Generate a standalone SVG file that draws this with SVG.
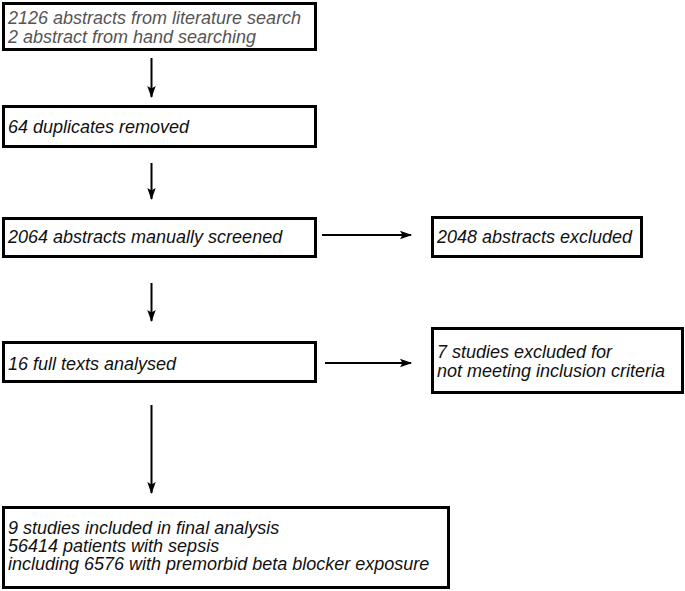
<svg xmlns="http://www.w3.org/2000/svg" width="685" height="591" viewBox="0 0 685 591">
<style>
.box{fill:#fff;stroke:#000;stroke-width:3}
.t{font-family:"Liberation Sans",Arial,sans-serif;font-style:italic;font-size:18px;fill:#111}
.g{fill:#555}
.c{stroke:#000;stroke-width:2;fill:none}
</style>
<defs>
<marker id="ah" markerWidth="12" markerHeight="10" refX="11" refY="5" orient="auto" markerUnits="userSpaceOnUse">
<path d="M0,0.8 L12,5 L0,9.2 L2.5,5 Z" fill="#000"/>
</marker>
</defs>
<rect width="685" height="591" fill="#fff"/>
<g id="connectors">
<line class="c" x1="151.5" y1="58" x2="151.5" y2="97" marker-end="url(#ah)"/>
<line class="c" x1="151.5" y1="163" x2="151.5" y2="199" marker-end="url(#ah)"/>
<line class="c" x1="151.5" y1="283" x2="151.5" y2="321" marker-end="url(#ah)"/>
<line class="c" x1="151.5" y1="405" x2="151.5" y2="493" marker-end="url(#ah)"/>
<line class="c" x1="322" y1="235" x2="411" y2="235" marker-end="url(#ah)"/>
<line class="c" x1="325" y1="363" x2="411" y2="363" marker-end="url(#ah)"/>
</g>
<g id="n1">
<rect class="box" x="3.5" y="3.5" width="312" height="46"/>
<text class="t g" x="8" y="23.5">2126 abstracts from literature search</text>
<text class="t g" x="8" y="42.5">2 abstract from hand searching</text>
</g>
<g id="n2">
<rect class="box" x="3.5" y="106.5" width="312" height="40"/>
<text class="t" x="8" y="133">64 duplicates removed</text>
</g>
<g id="n3">
<rect class="box" x="3.5" y="218.5" width="312" height="38"/>
<text class="t" x="8" y="243">2064 abstracts manually screened</text>
</g>
<g id="n4">
<rect class="box" x="432.5" y="217.5" width="209" height="39"/>
<text class="t" x="437" y="243">2048 abstracts excluded</text>
</g>
<g id="n5">
<rect class="box" x="3.5" y="342.5" width="312" height="39"/>
<text class="t" x="8" y="370">16 full texts analysed</text>
</g>
<g id="n6">
<rect class="box" x="432.5" y="328.5" width="250" height="64"/>
<text class="t" x="437" y="358">7 studies excluded for</text>
<text class="t" x="437" y="377">not meeting inclusion criteria</text>
</g>
<g id="n7">
<rect class="box" x="3.5" y="507.5" width="445" height="80"/>
<text class="t" x="8" y="534">9 studies included in final analysis</text>
<text class="t" x="8" y="552">56414 patients with sepsis</text>
<text class="t" x="8" y="570">including 6576 with premorbid beta blocker exposure</text>
</g>
</svg>
